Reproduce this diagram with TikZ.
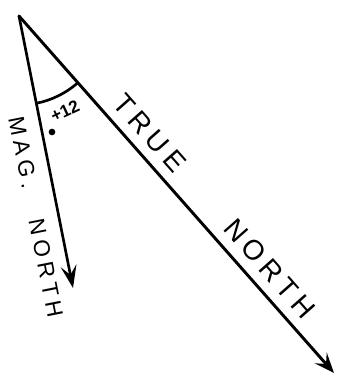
\documentclass[tikz,border=0pt]{standalone}
\usepackage{fontspec}
\setsansfont{Liberation Sans}
\usetikzlibrary{arrows.meta,calc}

\begin{document}
\begin{tikzpicture}[
    x=0.75pt, y=0.75pt,
    % --- Line styles ---
    bearing/.style={line width=2.2pt, line cap=round},
    trueline/.style={bearing, -{Stealth[length=15pt, width=12pt, inset=6pt]}},
    magline/.style={bearing, line width=2pt, -{Stealth[length=17pt, width=12pt, inset=7pt]}},
    arcline/.style={line width=2pt},
    % --- Text styles ---
    bigword/.style={font=\fontsize{21}{24}\sffamily\addfontfeatures{LetterSpace=20}, inner sep=0pt},
    smallword/.style={font=\fontsize{17}{20}\sffamily\addfontfeatures{LetterSpace=22}, inner sep=0pt},
]
\useasboundingbox (0,0) rectangle (351,387);

% === The two bearings from one point ===
\coordinate (apex) at (19,371);
\coordinate (truetip) at (334,14);
\coordinate (magtip) at (73,99);

\draw[trueline] (apex) -- (truetip)
  node[bigword, sloped, above=7pt, pos=0.366] (trueword) {TRUE}
  node[bigword, sloped, above=7pt, pos=0.746] (northword) {NORTH};
\draw[magline] (apex) -- (magtip)
  node[smallword, sloped, below=10pt, pos=0.486] (magword) {MAG.}
  node[smallword, sloped, below=10pt, pos=0.91] (magnorth) {NORTH};

% --- Angle between them ---
\coordinate (arcstart) at ($(apex)+(-78.6:89)$);
\draw[arcline] (arcstart) arc[start angle=-78.6, end angle=-48.7, radius=89];
\node[font=\fontsize{13}{14}\sffamily\bfseries, rotate=25, inner sep=0pt] (angle) at (65,276) {+12};
\node[circle, fill, inner sep=0pt, minimum size=5pt] (dot) at (52,255) {};

\end{tikzpicture}
\end{document}
